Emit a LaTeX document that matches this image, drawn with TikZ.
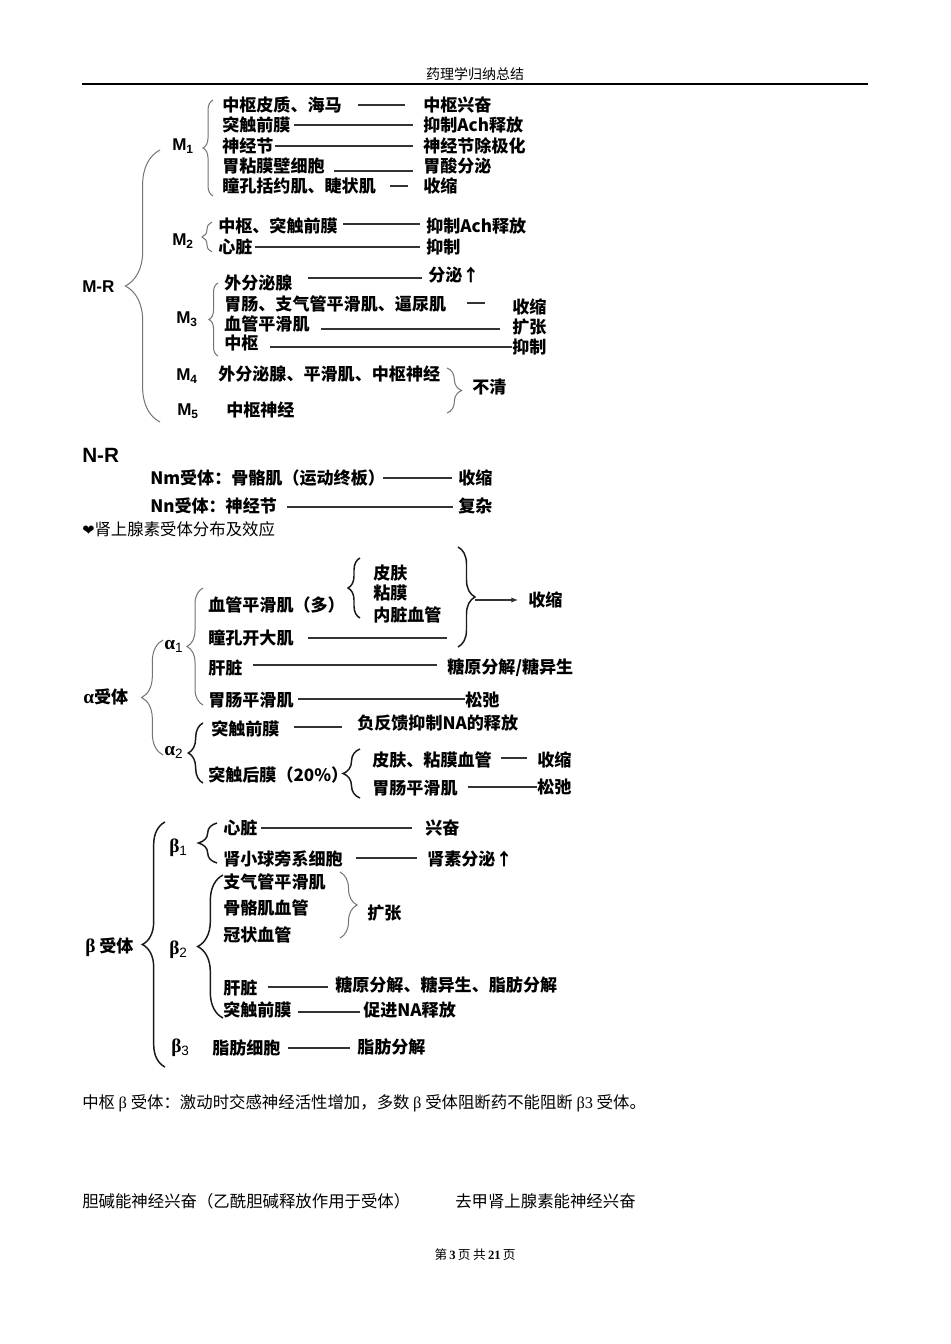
\documentclass[tikz,border=0pt]{standalone}
\usepackage{fontspec}
\setmainfont{Noto Sans CJK SC}
\newfontfamily\lsans{Liberation Sans}
\newfontfamily\lserif{Liberation Serif}
\newfontfamily\dejavu{DejaVu Sans}
\usetikzlibrary{calc,decorations.pathreplacing,arrows.meta}
\newcommand\lk[5]{\draw[ln] ($(#1.east)+(#3,#5)$) -- ($(#1.east -| #2.west)+({-1*(#4)},#5)$);}
\newcommand\gsub[2]{{\lserif\bfseries #1}\textsubscript{\lsans #2}}
\begin{document}
\begin{tikzpicture}[x=0.75pt,y=-0.75pt,
  tx/.style={anchor=west, inner sep=0, font=\bfseries\fontsize{12.8}{14}\selectfont},
  lab/.style={anchor=west, inner sep=0, font=\lsans\bfseries\fontsize{12.8}{14}\selectfont},
  gk/.style={anchor=west, inner sep=0, font=\fontsize{14.5}{16}\selectfont},
  body/.style={anchor=west, inner sep=0, font=\fontsize{12.3}{14}\selectfont},
  ln/.style={draw=black!80, line width=0.8pt},
  br/.style={draw=black!55, line width=0.75pt, decorate, decoration={brace, amplitude=#1}},
  bk/.style={draw=black!90, line width=1.1pt, decorate, decoration={brace, amplitude=#1}}]
\useasboundingbox (0,0) rectangle (950,1344);
\fill[white] (0,0) rectangle (950,1344);
% header
\node[body, anchor=center, font=\fontsize{10.5}{12}\selectfont] (hdr) at (475,74) {药理学归纳总结};
\coordinate (hl) at (82,84); \coordinate (hr) at (868,84);
\draw[black, line width=0.8pt] (hl) -- (hr);
% M-R
\node[lab] (mr) at (82,287) {M-R};
\draw[br=26pt] (160,422) -- (160,150);
% M1
\node[lab] (m1) at (172,146) {M\textsubscript{1}};
\draw[br=7.5pt] (213,196) -- (213,100);
\node[tx] (m1a) at (222,105) {中枢皮质、海马};
\node[tx] (m1b) at (222,125) {突触前膜};
\node[tx] (m1c) at (222,146) {神经节};
\node[tx] (m1d) at (222,166) {胃粘膜壁细胞};
\node[tx] (m1e) at (222,186) {瞳孔括约肌、睫状肌};
\node[tx] (r1a) at (423,105) {中枢兴奋};
\node[tx] (r1b) at (423,125) {抑制Ach释放};
\node[tx] (r1c) at (423,146) {神经节除极化};
\node[tx] (r1d) at (423,166) {胃酸分泌};
\node[tx] (r1e) at (423,186) {收缩};
\lk{m1a}{r1a}{16}{18}{0}
\lk{m1b}{r1b}{3}{10}{0}
\lk{m1c}{r1c}{1}{10}{0}
\lk{m1d}{r1d}{9}{10}{5}
\lk{m1e}{r1e}{14}{15}{0}
% M2
\node[lab] (m2) at (172,241) {M\textsubscript{2}};
\draw[br=7.5pt] (212,252) -- (212,222);
\node[tx] (m2a) at (218,226) {中枢、突触前膜};
\node[tx] (m2b) at (218,247) {心脏};
\node[tx] (r2a) at (426,226) {抑制Ach释放};
\node[tx] (r2b) at (426,247) {抑制};
\lk{m2a}{r2a}{5}{6}{-2}
\lk{m2b}{r2b}{2}{6}{0}
% M3
\node[lab] (m3) at (176,319) {M\textsubscript{3}};
\draw[br=6.75pt] (218,356) -- (218,283);
\node[tx] (m3a) at (224,283) {外分泌腺};
\node[tx] (m3b) at (224,304) {胃肠、支气管平滑肌、逼尿肌};
\node[tx] (m3c) at (224,324) {血管平滑肌};
\node[tx] (m3d) at (224,343) {中枢};
\node[tx] (r3a) at (428,275) {分泌↑};
\node[tx] (r3b) at (512,307) {收缩};
\node[tx] (r3c) at (512,327) {扩张};
\node[tx] (r3d) at (512,347) {抑制};
\lk{m3a}{r3a}{15}{6}{-5}
\lk{m3b}{r3b}{21}{27}{-1}
\lk{m3c}{r3c}{11}{12}{5}
\lk{m3d}{r3d}{11}{0}{4}
% M4 M5
\node[lab] (m4) at (176,376) {M\textsubscript{4}};
\node[tx] (m4a) at (218,374) {外分泌腺、平滑肌、中枢神经};
\node[lab] (m5) at (177,411) {M\textsubscript{5}};
\node[tx] (m5a) at (226,410) {中枢神经};
\draw[br=11pt] (447,368) -- (447,413);
\node[tx] (r45) at (472,387) {不清};
% N-R
\node[lab, font=\lsans\bfseries\fontsize{15.5}{17}\selectfont] (nr) at (82,455) {N-R};
\node[tx] (nm) at (150,478) {Nm受体：骨骼肌（运动终板）};
\node[tx] (rnm) at (458,478) {收缩};
\node[tx] (nn) at (150,506) {Nn受体：神经节};
\node[tx] (rnn) at (458,506) {复杂};
\lk{nm}{rnm}{-2}{6}{0}
\lk{nn}{rnn}{10}{5}{1}
\node[body] (hrt) at (82,529) {{\dejavu\fontsize{11}{12}\selectfont ❤}肾上腺素受体分布及效应};
% alpha
\node[tx] (alr) at (83,697) {{\lserif\fontsize{14.5}{16}\selectfont α}受体};
\draw[br=16pt] (163,755) -- (163,640);
\node[gk] (a1) at (164,646) {\gsub{α}{1}};
\draw[br=12pt] (203,705) -- (203,588);
\node[tx] (a1a) at (208,605) {血管平滑肌（多）};
\draw[bk=9pt] (360,618) -- (360,558);
\node[tx] (sk1) at (373,573) {皮肤};
\node[tx] (sk2) at (373,593) {粘膜};
\node[tx] (sk3) at (373,615) {内脏血管};
\draw[bk=12.75pt] (458,547) -- (458,647);
\coordinate (a1tip) at (475,600);
\node[tx] (shr) at (528,600) {收缩};
\draw[ln,-{Latex[length=5pt,width=4pt]}] (a1tip) -- ($(shr.west)+(-10,0)$);
\node[tx] (a1b) at (208,638) {瞳孔开大肌};
\coordinate (a1bend) at (447,637);
\draw[ln, line width=1pt] ($(a1b.east)+(14,0)$) -- (a1b.east -| a1bend);
\node[tx] (a1c) at (208,668) {肝脏};
\node[tx] (ra1c) at (447,668) {糖原分解/糖异生};
\lk{a1c}{ra1c}{10}{10}{-3}
\node[tx] (a1d) at (208,700) {胃肠平滑肌};
\node[tx] (ra1d) at (465,700) {松弛};
\lk{a1d}{ra1d}{4}{0}{-1}
\node[gk] (a2) at (164,752) {\gsub{α}{2}};
\draw[bk=11pt] (203,783) -- (203,723);
\node[tx] (a2a) at (211,729) {突触前膜};
\node[tx] (ra2a) at (357,723) {负反馈抑制NA的释放};
\lk{a2a}{ra2a}{14}{15}{-2}
\node[tx] (a2b) at (208,775) {突触后膜（20\%）};
\draw[bk=12.75pt] (360,798) -- (360,749);
\node[tx] (a2c) at (372,760) {皮肤、粘膜血管};
\node[tx] (ra2c) at (537,760) {收缩};
\lk{a2c}{ra2c}{9}{10}{-2}
\node[tx] (a2d) at (372,788) {胃肠平滑肌};
\node[tx] (ra2d) at (537,787) {松弛};
\lk{a2d}{ra2d}{10}{0}{-1}
% beta
\node[tx] (blr) at (85,947) {{\lserif\fontsize{14.5}{16}\selectfont β} 受体};
\draw[bk=17pt] (165,1067) -- (165,822);
\node[gk] (b1) at (169,848) {\gsub{β}{1}};
\draw[bk=14pt] (217,863) -- (217,823);
\node[tx] (b1a) at (223,828) {心脏};
\node[tx] (rb1a) at (425,828) {兴奋};
\lk{b1a}{rb1a}{3}{13}{0}
\node[tx] (b1b) at (223,859) {肾小球旁系细胞};
\node[tx] (rb1b) at (427,859) {肾素分泌↑};
\lk{b1b}{rb1b}{13}{10}{-1}
\node[gk] (b2) at (169,950) {\gsub{β}{2}};
\draw[bk=19pt] (223,1018) -- (223,875);
\node[tx] (b2a) at (223,882) {支气管平滑肌};
\node[tx] (b2b) at (223,908) {骨骼肌血管};
\node[tx] (b2c) at (223,935) {冠状血管};
\draw[br=12.75pt] (340,872) -- (340,938);
\node[tx] (rb2) at (367,913) {扩张};
\node[tx] (b2d) at (223,988) {肝脏};
\node[tx] (rb2d) at (335,985) {糖原分解、糖异生、脂肪分解};
\lk{b2d}{rb2d}{10}{7}{-1}
\node[tx] (b2e) at (223,1010) {突触前膜};
\node[tx] (rb2e) at (363,1010) {促进NA释放};
\lk{b2e}{rb2e}{6}{3}{2}
\node[gk] (b3) at (171,1048) {\gsub{β}{3}};
\node[tx] (b3a) at (212,1048) {脂肪细胞};
\node[tx] (rb3a) at (357,1047) {脂肪分解};
\lk{b3a}{rb3a}{7}{7}{0}
% bottom text
\node[body] (bt1) at (82,1103) {中枢 {\lserif β} 受体：激动时交感神经活性增加，多数 {\lserif β} 受体阻断药不能阻断 {\lserif β3} 受体。};
\node[body] (bt2) at (82,1201) {胆碱能神经兴奋（乙酰胆碱释放作用于受体）};
\node[body] (bt3) at (455,1201) {去甲肾上腺素能神经兴奋};
\node[body, anchor=center, font=\fontsize{9.5}{11}\selectfont] (ftr) at (475,1255) {第{\lserif\bfseries\,3\,}页 共{\lserif\bfseries\,21\,}页};
\end{tikzpicture}
\end{document}
